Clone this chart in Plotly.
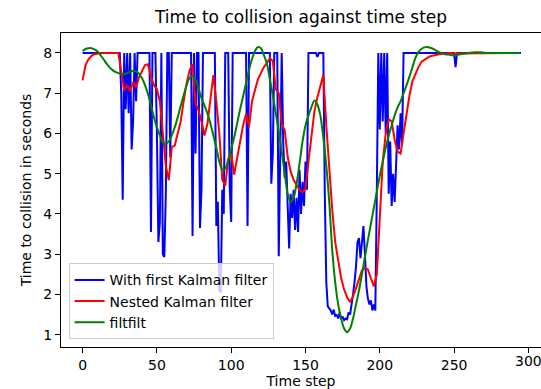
import plotly.graph_objects as go

# ---- data ----
blue = ([8.0] * 26 +
        [7.0, 4.35, 8.0, 6.6, 8.0, 6.5, 8.0, 5.6, 6.3, 8.0, 6.8, 8.0] +
        [8.0] * 8 +
        [3.55, 8.0, 8.0, 8.0, 6.0, 3.3, 3.8, 8.0, 3.0, 2.93, 4.5, 8.0, 8.0, 5.4] +
        [8.0] * 14 +
        [3.45, 8.0, 5.5, 8.0, 8.0, 3.65, 4.6] +
        [8.0] * 9 +
        [3.7, 4.3, 2.1, 2.05, 4.6, 4.0, 8.0, 8.0, 8.0, 4.67, 3.8] +
        [8.0] * 10 +
        [3.7] +
        [8.0] * 15 +
        [4.75, 5.5, 8.0, 8.0, 8.0, 2.95, 6.1, 8.0, 5.8, 4.9, 5.3, 4.0, 3.14,
         4.5, 3.9, 4.6, 3.6, 4.4, 3.55, 5.1, 4.0, 4.8, 4.2, 5.3, 4.6] +
        [8.0] * 6 + [7.9] + [8.0] * 4 +
        [4.5, 2.3, 1.7, 1.65, 1.6, 1.5, 1.62, 1.45, 1.5, 1.4, 1.55, 1.38, 1.45,
         1.36, 1.4, 1.38, 1.55, 1.5, 1.7, 2.0, 2.3, 2.7, 3.3, 3.4, 2.9, 3.35,
         3.7, 3.0, 2.2, 1.9, 1.75, 1.85, 1.6, 1.75, 1.6, 4.5, 8.0, 6.1, 8.0,
         6.3, 8.0, 6.0, 8.0, 4.5, 5.8, 4.2, 5.0, 4.3, 5.1, 6.2, 5.6, 6.5, 5.7] +
        [8.0] * 35 + [7.65] + [8.0] * 44)

# nested Kalman filter, sampled every 2 time steps
red = [7.32, 7.7, 7.85, 7.93, 7.97, 7.99, 8.0, 8.0, 8.0, 8.0,
       8.0, 8.0, 8.0, 7.55, 7.07, 7.2, 7.05, 7.28, 7.15, 7.4,
       7.57, 7.7, 7.72, 7.4, 7.2, 7.1, 6.8, 6.0, 5.2, 4.84,
       5.66, 5.7, 6.0, 6.3, 6.8, 7.25, 7.57, 7.72, 6.74, 6.58,
       6.3, 5.95, 6.24, 6.9, 7.45, 6.8, 6.0, 4.85, 4.7, 5.35,
       5.5, 4.98, 5.4, 5.83, 6.2, 6.49, 6.16, 6.8, 7.1, 7.35,
       7.5, 7.65, 7.75, 7.87, 7.8, 7.1, 7.0, 6.24, 6.08, 5.42,
       5.05, 4.85, 4.72, 4.6, 4.54, 4.62, 5.3, 6.0, 6.55, 6.9,
       7.15, 7.45, 6.2, 5.0, 4.1, 3.3, 2.8, 2.4, 2.12, 1.93,
       1.81, 1.95, 2.15, 2.4, 2.6, 2.66, 2.62, 2.4, 2.2, 2.5,
       4.0, 5.3, 6.0, 6.35, 6.3, 5.85, 5.55, 5.5, 6.0, 6.5,
       6.95, 7.3, 7.5, 7.65, 7.78, 7.84, 7.88, 7.92, 7.94, 7.96,
       7.97, 7.98, 7.99, 8.0, 8.0, 7.99, 7.99, 8.0, 8.0, 8.0,
       8.0, 8.0, 8.0, 8.0, 8.0, 8.0, 8.0, 8.0, 8.0, 8.0,
       8.0, 8.0, 8.0, 8.0, 8.0, 8.0, 8.0, 8.0]

# filtfilt, sampled every 2 time steps
green = [8.05, 8.1, 8.12, 8.12, 8.09, 8.04, 7.95, 7.85, 7.74, 7.65,
         7.58, 7.53, 7.5, 7.48, 7.48, 7.5, 7.53, 7.56, 7.55, 7.48,
         7.37, 7.2, 6.98, 6.7, 6.4, 6.15, 5.95, 5.78, 5.74, 5.8,
         5.95, 6.15, 6.4, 6.68, 6.95, 7.2, 7.38, 7.42, 7.33, 7.12,
         6.88, 6.7, 6.5, 6.25, 5.95, 5.65, 5.3, 5.1, 5.12, 5.35,
         5.62, 5.9, 6.25, 6.6, 6.92, 7.25, 7.58, 7.85, 8.05, 8.15,
         8.12, 7.95, 7.74, 7.35, 6.95, 6.5, 6.05, 5.55, 5.0, 4.5,
         4.3, 4.4, 4.75, 5.25, 5.8, 6.2, 6.45, 6.65, 6.82, 6.72,
         6.45, 5.9, 5.2, 4.3, 3.1, 2.3, 1.75, 1.4, 1.15, 1.06,
         1.15, 1.4, 1.75, 2.1, 2.5, 2.93, 3.35, 3.75, 4.15, 4.55,
         4.95, 5.3, 5.65, 5.95, 6.2, 6.45, 6.65, 6.8, 7.0, 7.2,
         7.42, 7.65, 7.88, 8.02, 8.1, 8.14, 8.15, 8.13, 8.1, 8.06,
         8.02, 7.99, 7.97, 7.96, 7.95, 7.94, 7.95, 7.97, 7.98, 7.99,
         8.0, 8.01, 8.02, 8.02, 8.02, 8.01, 8.0, 8.0, 8.0, 8.0,
         8.0, 8.0, 8.0, 8.0, 8.0, 8.0, 8.0, 8.0]

x_ticks = [0, 50, 100, 150, 200, 250, 300]
y_ticks = [1, 2, 3, 4, 5, 6, 7, 8]

t_blue = list(range(len(blue)))
t_red = [2 * i for i in range(len(red))]
t_green = [2 * i for i in range(len(green))]

FONT = "DejaVu Sans"

fig = go.Figure()
fig.add_trace(go.Scatter(x=t_blue, y=blue, mode="lines", name="With first Kalman filter",
                         line=dict(color="#0000ff", width=2)))
fig.add_trace(go.Scatter(x=t_red, y=red, mode="lines", name="Nested Kalman filter",
                         line=dict(color="#ff0000", width=2)))
fig.add_trace(go.Scatter(x=t_green, y=green, mode="lines", name="filtfilt",
                         line=dict(color="#008000", width=2, shape="spline", smoothing=0.8)))

axis_common = dict(showgrid=False, zeroline=False, showline=True, linecolor="black",
                   linewidth=1, mirror=True, ticks="outside", ticklen=5, tickwidth=1,
                   tickcolor="black", tickfont=dict(family=FONT, size=14, color="black"),
                   automargin=False)

# the last x tick sits on the page edge, where plotly drops its label:
# its mark is a minor tick and its label a text annotation under it
fig.update_layout(
    width=541, height=389,
    margin=dict(l=61, r=0, t=33, b=42, pad=0),
    plot_bgcolor="white", paper_bgcolor="white",
    font=dict(family=FONT, size=14, color="black"),
    title=dict(text="Time to collision against time step", x=0.5, xref="paper",
               xanchor="center", y=1 - 17 / 389, yref="container", yanchor="middle",
               font=dict(family=FONT, size=17, color="black")),
    xaxis=dict(range=[-14.54, 308.5], tickvals=x_ticks[:-1],
               minor=dict(tickvals=x_ticks[-1:], ticks="outside", ticklen=5,
                          tickwidth=1, tickcolor="black", showgrid=False),
               title=dict(text="Time step", standoff=3,
                          font=dict(family=FONT, size=14, color="black")),
               **axis_common),
    yaxis=dict(range=[0.692, 8.497], tickvals=y_ticks,
               title=dict(text="Time to collision in seconds", standoff=8,
                          font=dict(family=FONT, size=14, color="black")),
               **axis_common),
    legend=dict(x=0.0158, y=0.0245, xanchor="left", yanchor="bottom",
                bordercolor="#cccccc", borderwidth=1, bgcolor="rgba(255,255,255,0.8)",
                font=dict(family=FONT, size=14, color="black"), itemwidth=30),
    showlegend=True,
)

fig.add_annotation(x=x_ticks[-1], xref="x", y=-0.0446, yref="paper",
                   text=str(x_ticks[-1]), showarrow=False, xanchor="center",
                   yanchor="middle", font=dict(family=FONT, size=14, color="black"))

fig.write_html("out.html")
